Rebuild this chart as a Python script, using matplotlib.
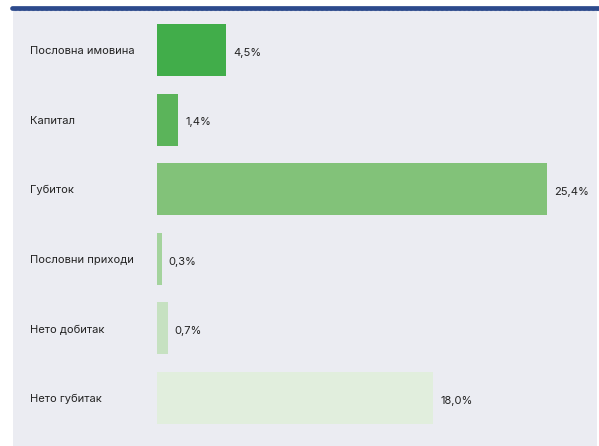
import matplotlib.pyplot as plt
from matplotlib.patches import Rectangle
from matplotlib.lines import Line2D

plt.rcParams['font.family'] = ['Inter', 'DejaVu Sans']

categories = ['Пословна имовина', 'Капитал', 'Губиток',
              'Пословни приходи', 'Нето добитак', 'Нето губитак']
values = [4.5, 1.4, 25.4, 0.3, 0.7, 18.0]
value_labels = ['4,5%', '1,4%', '25,4%', '0,3%', '0,7%', '18,0%']
colors = ['#41ad4a', '#5bb45a', '#82c279', '#a4d39d', '#c6e1c1', '#e1eedd']

W, H = 599, 446
fig = plt.figure(figsize=(W / 100, H / 100), dpi=100)
fig.patch.set_facecolor('white')

# grey panel behind the chart
fig.patches.append(Rectangle((13 / W, 0), (597 - 13) / W, (H - 9) / H,
                             transform=fig.transFigure, facecolor='#ebecf2',
                             edgecolor='none', zorder=-5))
# dark blue rule on top
fig.lines.append(Line2D([12 / W, 1.0], [(H - 7.5) / H] * 2, transform=fig.transFigure,
                        color='#2c4a8c', linewidth=3.4, solid_capstyle='round', zorder=2))
fig.lines.append(Line2D([14 / W, 1.0], [(H - 10) / H] * 2, transform=fig.transFigure,
                        color='#7b8fbd', linewidth=0.8, linestyle=(0, (2, 2)), zorder=1))

ax = fig.add_axes([157 / W, (H - 432.8) / H, (W - 157) / W, 417.6 / H])
ax.set_zorder(3)
ax.set_facecolor('none')
ypos = range(len(categories))
ax.barh(ypos, values, height=0.75, color=colors)
ax.set_xlim(0, 28.8)
ax.set_ylim(5.5, -0.5)

for y, v, lab in zip(ypos, values, value_labels):
    ax.annotate(lab, (v, y), xytext=(5, -2), textcoords='offset points',
                ha='left', va='center', fontsize=8, color='#222222')

ax.set_yticks(list(ypos))
ax.set_yticklabels(categories, fontsize=8, color='#222222')
ax.tick_params(axis='y', length=0, pad=91.4)
for t in ax.get_yticklabels():
    t.set_horizontalalignment('left')
ax.set_xticks([])
for s in ax.spines.values():
    s.set_visible(False)

fig.savefig('out.png', dpi=100)
